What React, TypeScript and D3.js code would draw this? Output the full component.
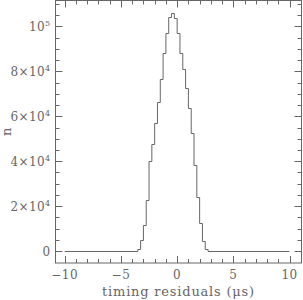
import React, { useEffect, useRef } from 'react';
import * as d3 from 'd3'

// histogram bins (left edges, µs) and counts
const binEdges = [-3.5, -3.25, -3.0, -2.75, -2.5, -2.25, -2.0, -1.75, -1.5, -1.25, -1.0, -0.75, -0.5,
  -0.25, 0, 0.25, 0.5, 0.75, 1.0, 1.25, 1.5, 1.75, 2.0, 2.25, 2.5, 2.75]
const counts = [900, 4900, 11600, 22700, 40000, 47600, 56900, 66200, 76400, 88200, 97300, 104400, 106100,
  103600, 96900, 88400, 80900, 72400, 63600, 52400, 38200, 24000, 12400, 4400, 700]
const baselineRange = [-10, 10]

const xMajorTicks = [-10, -5, 0, 5, 10]
const xMinorTicks = [-11, -9, -8, -7, -6, -4, -3, -2, -1, 1, 2, 3, 4, 6, 7, 8, 9, 11]
const xTickLabels = ['\u221210', '\u22125', '0', '5', '10']
const yMajorTicks = [0, 20000, 40000, 60000, 80000, 100000]
const yMinorTicks = [5000, 10000, 15000, 25000, 30000, 35000, 45000, 50000, 55000, 65000, 70000, 75000,
  85000, 90000, 95000, 105000, 110000]
const yTickMantissa = ['0', '2', '4', '6', '8', '']
const yTickExponent = ['', '4', '4', '4', '4', '5']

const App: React.FC = () => {
  const svgRef = useRef() as React.MutableRefObject<SVGSVGElement>

  useEffect(() => {
    const W = 303, H = 300
    const margin = { top: 0.5, right: 1.5, bottom: 37, left: 55.5 }
    const color = '#666'
    const textColor = '#666'
    const font = '"DejaVu Serif", "Liberation Serif", serif'

    d3.select(svgRef.current).html('')
    const svg = d3.select(svgRef.current)
      .attr('width', W)
      .attr('height', H)
      .attr('viewBox', `0 0 ${W} ${H}`)

    const x = d3.scaleLinear().domain([-10.82, 11.06]).range([margin.left, W - margin.right])
    const y = d3.scaleLinear().domain([-5333, 111560]).range([H - margin.bottom, margin.top])
    const [x0, x1] = x.range()
    const [yb, yt] = y.range()

    // frame
    svg.append('rect')
      .attr('x', x0).attr('y', yt)
      .attr('width', x1 - x0).attr('height', yb - yt)
      .attr('fill', 'none').attr('stroke', color).attr('stroke-width', 1)

    const ticks = svg.append('g').attr('stroke', color).attr('stroke-width', 1)
    const major = 7, minor = 4
    xMajorTicks.forEach(v => {
      const px = Math.round(x(v)) + 0.5
      ticks.append('line').attr('x1', px).attr('x2', px).attr('y1', yb).attr('y2', yb - major)
      ticks.append('line').attr('x1', px).attr('x2', px).attr('y1', yt).attr('y2', yt + major)
    })
    xMinorTicks.filter(v => x(v) > x0 + 1 && x(v) < x1 - 1).forEach(v => {
      const px = Math.round(x(v)) + 0.5
      ticks.append('line').attr('x1', px).attr('x2', px).attr('y1', yb).attr('y2', yb - minor)
      ticks.append('line').attr('x1', px).attr('x2', px).attr('y1', yt).attr('y2', yt + minor)
    })
    yMajorTicks.forEach(v => {
      const py = Math.round(y(v)) + 0.5
      ticks.append('line').attr('x1', x0).attr('x2', x0 + major).attr('y1', py).attr('y2', py)
      ticks.append('line').attr('x1', x1).attr('x2', x1 - major).attr('y1', py).attr('y2', py)
    })
    yMinorTicks.filter(v => y(v) > yt + 1 && y(v) < yb - 1).forEach(v => {
      const py = Math.round(y(v)) + 0.5
      ticks.append('line').attr('x1', x0).attr('x2', x0 + minor).attr('y1', py).attr('y2', py)
      ticks.append('line').attr('x1', x1).attr('x2', x1 - minor).attr('y1', py).attr('y2', py)
    })

    // histogram
    const pts: [number, number][] = [[baselineRange[0], 0]]
    counts.forEach((c, i) => pts.push([binEdges[i], c]))
    pts.push([binEdges[binEdges.length - 1], 0])
    pts.push([baselineRange[1], 0])
    const line = d3.line<[number, number]>()
      .x(d => x(d[0]))
      .y(d => Math.round(y(d[1])) + 0.5)
      .curve(d3.curveStepAfter)
    svg.append('path')
      .datum(pts)
      .attr('fill', 'none')
      .attr('stroke', color)
      .attr('stroke-width', 1)
      .attr('d', line)

    // x tick labels
    svg.append('g')
      .selectAll('text')
      .data(xMajorTicks)
      .join('text')
      .attr('x', d => x(d))
      .attr('y', yb + 16)
      .attr('text-anchor', 'middle')
      .attr('font-family', font)
      .attr('font-size', 12)
      .attr('letter-spacing', 0.5)
      .attr('fill', textColor)
      .text((d, i) => xTickLabels[i])

    // y tick labels
    yMajorTicks.forEach((v, i) => {
      const t = svg.append('text')
        .attr('x', x0 - 5)
        .attr('y', y(v) + 4.5)
        .attr('text-anchor', 'end')
        .attr('font-family', font)
        .attr('font-size', 12)
        .attr('letter-spacing', 0.4)
        .attr('fill', textColor)
      if (yTickExponent[i] === '') {
        t.text(yTickMantissa[i])
      } else {
        t.append('tspan').text(yTickMantissa[i] ? `${yTickMantissa[i]}\u00d710` : '10')
        t.append('tspan').attr('dy', -5).attr('font-size', 8).text(yTickExponent[i])
      }
    })

    // axis titles
    svg.append('text')
      .attr('x', (x0 + x1) / 2)
      .attr('y', 296)
      .attr('text-anchor', 'middle')
      .attr('font-family', font)
      .attr('font-size', 13)
      .attr('letter-spacing', 0.8)
      .attr('fill', textColor)
      .text('timing residuals (\u03bcs)')

    svg.append('text')
      .attr('transform', `translate(11, ${(yt + yb) / 2}) rotate(-90)`)
      .attr('text-anchor', 'middle')
      .attr('font-family', font)
      .attr('font-size', 13)
      .attr('fill', textColor)
      .text('n')
  }, [])

  return <svg ref={svgRef} style={{ position: 'absolute', left: 0, top: 0, display: 'block' }}/>
}

export default App
